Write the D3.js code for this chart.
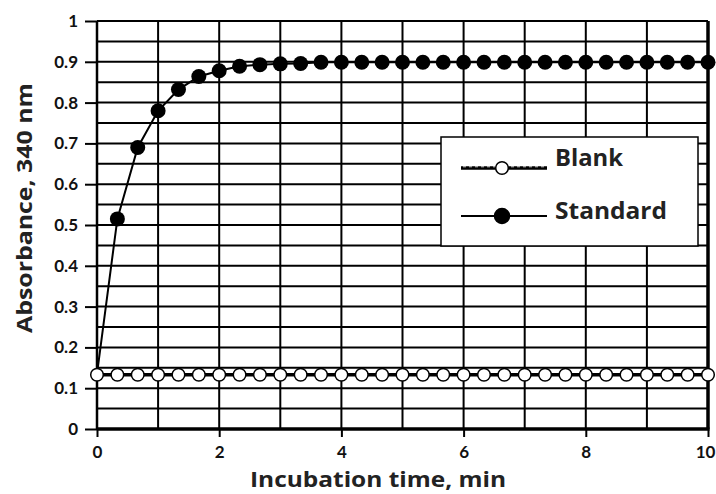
<!DOCTYPE html>
<html>
<head>
<meta charset="utf-8">
<script src="https://cdn.jsdelivr.net/npm/d3@7"></script>
<style>
  body { margin: 0; background: #fff; }
  svg { display: block; }
  .tick-label { font-family: "Lato", "DejaVu Sans", sans-serif; font-size: 17px; font-weight: 700; fill: #111; }
  .title { font-family: "Open Sans", "DejaVu Sans", sans-serif; font-size: 22px; font-weight: 700; fill: #222; }
  .legend-text { font-family: "Open Sans", "DejaVu Sans", sans-serif; font-size: 23px; font-weight: 700; fill: #222; }
</style>
</head>
<body>
<div id="chart"></div>
<script>
// sampling times, min (every 20 s)
var times = d3.range(0, 31).map(function(i) { return i / 3; });
var standard = [0.135, 0.515, 0.690, 0.780, 0.832, 0.864, 0.878, 0.889, 0.893, 0.895,
                0.896, 0.899, 0.899, 0.899, 0.899, 0.899, 0.899, 0.899, 0.899, 0.899,
                0.899, 0.899, 0.899, 0.899, 0.899, 0.899, 0.899, 0.899, 0.899, 0.899, 0.899];
var blank = [0.133, 0.133, 0.133, 0.133, 0.133, 0.133, 0.133, 0.133, 0.133, 0.133,
             0.133, 0.133, 0.133, 0.133, 0.133, 0.133, 0.133, 0.133, 0.133, 0.133,
             0.133, 0.133, 0.133, 0.133, 0.133, 0.133, 0.133, 0.133, 0.133, 0.133, 0.133];
var xTicks = [0, 2, 4, 6, 8, 10];
var yTicks = [0, 0.1, 0.2, 0.3, 0.4, 0.5, 0.6, 0.7, 0.8, 0.9, 1];
var seriesNames = ['Blank', 'Standard'];

var width = 716, height = 494,
    margin = {left: 97, right: 8, top: 21, bottom: 65};

var svg = d3.select('#chart').append('svg')
    .attr('width', width)
    .attr('height', height);

var x = d3.scaleLinear().domain([0, 10]).range([margin.left, width - margin.right]),
    y = d3.scaleLinear().domain([0, 1]).range([height - margin.bottom, margin.top]);

// grid
var grid = svg.append('g').attr('stroke', '#000').attr('stroke-width', 2);
grid.selectAll('.vgrid')
    .data(d3.range(0, 11))
    .enter()
    .append('line')
    .attr('x1', function(d) { return x(d); })
    .attr('x2', function(d) { return x(d); })
    .attr('y1', y(0))
    .attr('y2', y(1));
grid.selectAll('.hgrid')
    .data(d3.range(0, 21).map(function(i) { return i * 0.05; }))
    .enter()
    .append('line')
    .attr('x1', x(0))
    .attr('x2', x(10))
    .attr('y1', function(d) { return y(d); })
    .attr('y2', function(d) { return y(d); });

// heavier frame edges
svg.append('line').attr('x1', x(0)).attr('x2', x(10) + 1.5).attr('y1', y(0)).attr('y2', y(0))
    .attr('stroke', '#000').attr('stroke-width', 3.5);
svg.append('line').attr('x1', x(10)).attr('x2', x(10)).attr('y1', y(1)).attr('y2', y(0))
    .attr('stroke', '#000').attr('stroke-width', 3.5);
svg.append('line').attr('x1', x(0)).attr('x2', x(0)).attr('y1', y(1)).attr('y2', y(0))
    .attr('stroke', '#000').attr('stroke-width', 2.5);

// axes
var yAxis = svg.append('g')
    .attr('transform', 'translate(' + x(0) + ',0)')
    .call(d3.axisLeft(y).tickValues(yTicks).tickSize(12).tickPadding(7)
        .tickFormat(function(d) { return d === 0 || d === 1 ? d : d3.format('.1f')(d); }));
yAxis.select('.domain').remove();
yAxis.selectAll('line').attr('stroke-width', 2);
yAxis.selectAll('text').attr('class', 'tick-label').attr('font-family', null).attr('font-size', null);

var xAxis = svg.append('g')
    .attr('transform', 'translate(0,' + y(0) + ')')
    .call(d3.axisBottom(x).tickValues(xTicks).tickSize(8).tickPadding(9));
xAxis.select('.domain').remove();
xAxis.selectAll('line').attr('stroke-width', 2);
xAxis.selectAll('text').attr('class', 'tick-label').attr('font-family', null).attr('font-size', null)
    .attr('dx', function(d) { return d === 10 ? -3 : 0; });

// titles
svg.append('text').attr('class', 'title')
    .attr('x', 378)
    .attr('y', 487)
    .attr('text-anchor', 'middle')
    .attr('textLength', 256)
    .attr('lengthAdjust', 'spacingAndGlyphs')
    .text('Incubation time, min');
svg.append('text').attr('class', 'title')
    .attr('transform', 'translate(32,208) rotate(-90)')
    .attr('text-anchor', 'middle')
    .attr('textLength', 250)
    .attr('lengthAdjust', 'spacingAndGlyphs')
    .text('Absorbance, 340 nm');

// series
var line = d3.line()
    .x(function(d) { return x(d[0]); })
    .y(function(d) { return y(d[1]); });
var stdData = d3.zip(times, standard),
    blankData = d3.zip(times, blank);

svg.append('path').datum(stdData)
    .attr('d', line).attr('fill', 'none').attr('stroke', '#000').attr('stroke-width', 2);
svg.append('path').datum(blankData)
    .attr('d', line).attr('fill', 'none').attr('stroke', '#000').attr('stroke-width', 3.5);

svg.selectAll('.std')
    .data(stdData.slice(1))
    .enter()
    .append('circle')
    .attr('class', 'std')
    .attr('cx', function(d) { return x(d[0]); })
    .attr('cy', function(d) { return y(d[1]); })
    .attr('r', 7.5)
    .attr('fill', '#000');
svg.selectAll('.blk')
    .data(blankData)
    .enter()
    .append('circle')
    .attr('class', 'blk')
    .attr('cx', function(d) { return x(d[0]); })
    .attr('cy', function(d) { return y(d[1]); })
    .attr('r', 6.3)
    .attr('fill', '#fff')
    .attr('stroke', '#000')
    .attr('stroke-width', 1.5);

// legend
var legend = svg.append('g').attr('transform', 'translate(441,137)');
legend.append('rect')
    .attr('width', 257).attr('height', 109)
    .attr('fill', '#fff').attr('stroke', '#000').attr('stroke-width', 1.5);
var rows = legend.selectAll('.row')
    .data(seriesNames)
    .enter()
    .append('g')
    .attr('transform', function(d, i) { return 'translate(0,' + (31 + i * 48) + ')'; });
rows.append('line')
    .attr('x1', 20).attr('x2', 106).attr('y1', 0).attr('y2', 0)
    .attr('stroke', '#000')
    .attr('stroke-width', function(d, i) { return i === 0 ? 3.5 : 2; });
rows.filter(function(d, i) { return i === 0; }).append('line')
    .attr('x1', 22).attr('x2', 104).attr('y1', -1.2).attr('y2', -1.2)
    .attr('stroke', '#fff').attr('stroke-width', 0.8).attr('stroke-dasharray', '3,3');
rows.append('circle')
    .attr('cx', 61).attr('cy', 0)
    .attr('r', function(d, i) { return i === 0 ? 6.3 : 7.5; })
    .attr('fill', function(d, i) { return i === 0 ? '#fff' : '#000'; })
    .attr('stroke', '#000').attr('stroke-width', 1.5);
rows.append('text')
    .attr('class', 'legend-text')
    .attr('x', 114).attr('y', function(d, i) { return i === 0 ? -2 : 3; })
    .attr('textLength', function(d, i) { return i === 0 ? 68 : 112; })
    .attr('lengthAdjust', 'spacingAndGlyphs')
    .text(function(d) { return d; });
</script>
</body>
</html>
